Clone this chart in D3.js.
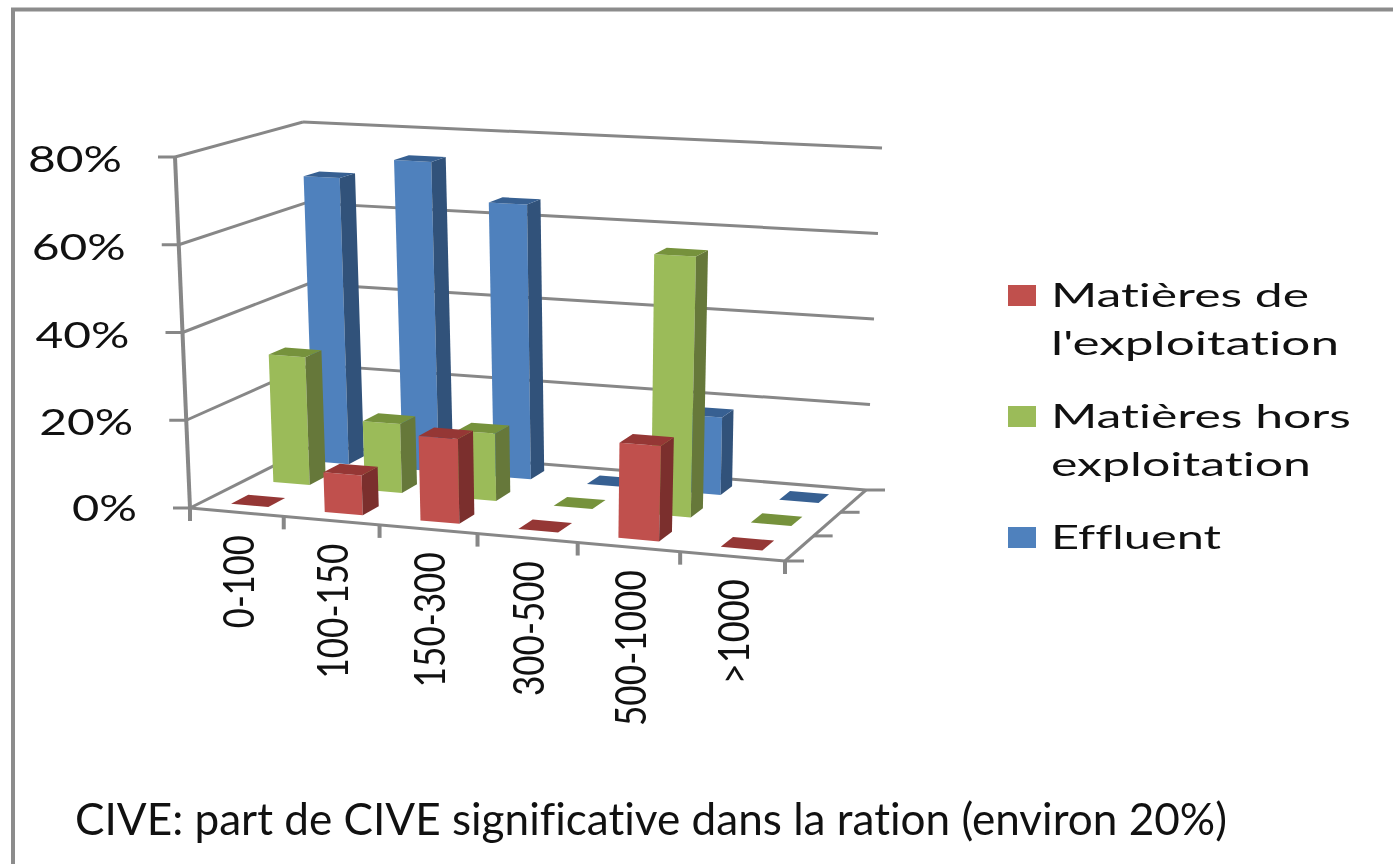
<!DOCTYPE html>
<html>
<head>
<meta charset="utf-8">
<script src="https://cdnjs.cloudflare.com/ajax/libs/d3/7.8.5/d3.min.js"></script>
<style>
html, body { margin: 0; padding: 0; background: #fff; overflow: hidden; }
svg { display: block; filter: blur(0.7px); }
text { font-family: Lato, "Open Sans", sans-serif; fill: #111; font-variant-ligatures: none; }
</style>
</head>
<body>
<svg id="chart" width="1393" height="864"></svg>
<script>
var categories = ["0-100", "100-150", "150-300", "300-500", "500-1000", ">1000"];
var seriesNames = ["Matières de l'exploitation", "Matières hors exploitation", "Effluent"];
var matieresExploitation = [0, 9, 19, 0, 21, 0];
var matieresHors = [30, 16, 15.5, 0, 59, 0];
var effluent = [69, 74, 65, 0, 18, 0];
var yTicks = [0, 20, 40, 60, 80];
var legendLines = [["Matières de", "l'exploitation"], ["Matières hors", "exploitation"], ["Effluent"]];
var caption = "CIVE: part de CIVE significative dans la ration (environ 20%)";

var svg = d3.select("#chart");
var gray = "#878787";

// front, side, top
var shades = [
    ["#c0504d", "#7b2f2d", "#953735"],
    ["#9bbb59", "#66783a", "#76923c"],
    ["#4f81bd", "#31527a", "#376092"]
];
var seriesValues = [matieresExploitation, matieresHors, effluent];

var x = d3.scaleBand().domain(categories).range([0, 1]).paddingInner(0.6).paddingOuter(0.3);
var z = d3.scaleBand().domain(seriesNames).range([0, 1]).paddingInner(0.6).paddingOuter(0.3);
var y = d3.scaleLinear().domain([0, 80]).range([0, 1]);

/* unit square -> quad, corners in order (0,0) (1,0) (1,1) (0,1) */
function quadMap(q) {
    var dx1 = q[1][0] - q[2][0], dx2 = q[3][0] - q[2][0], sx = q[0][0] - q[1][0] + q[2][0] - q[3][0];
    var dy1 = q[1][1] - q[2][1], dy2 = q[3][1] - q[2][1], sy = q[0][1] - q[1][1] + q[2][1] - q[3][1];
    var det = dx1 * dy2 - dx2 * dy1;
    var g = (sx * dy2 - dx2 * sy) / det;
    var h = (dx1 * sy - sx * dy1) / det;
    var a = q[1][0] - q[0][0] + g * q[1][0], b = q[3][0] - q[0][0] + h * q[3][0];
    var d = q[1][1] - q[0][1] + g * q[1][1], e = q[3][1] - q[0][1] + h * q[3][1];
    return function (u, w) {
        var n = g * u + h * w + 1;
        return [(a * u + b * w + q[0][0]) / n, (d * u + e * w + q[0][1]) / n];
    };
}

var floorAt = quadMap([[190, 508], [785, 561], [866, 490], [314, 445.5]]);
var ceilAt = quadMap([[175, 157], [805, 190], [882, 148], [303, 122]]);

function project(u, w, v) {
    var a = floorAt(u, w), b = ceilAt(u, w), t = y(v);
    return [a[0] + (b[0] - a[0]) * t, a[1] + (b[1] - a[1]) * t];
}

var line = d3.line();
function seg(g, a, b, sw) {
    g.append("path").attr("d", line([a, b])).attr("fill", "none")
        .attr("stroke", gray).attr("stroke-width", sw || 3);
}

// outer frame
svg.append("path").attr("d", "M1393,9.5H13V864").attr("fill", "none")
    .attr("stroke", "#8c8c8c").attr("stroke-width", 4);

/* walls and floor */
var walls = svg.append("g");
yTicks.forEach(function (v) {
    seg(walls, project(0, 0, v), project(0, 1, v));
    seg(walls, project(0, 1, v), project(1, 1, v));
    var p = project(0, 0, v);
    seg(walls, [p[0] - 17, p[1]], p);
});
seg(walls, project(0, 0, 0), project(0, 0, 80), 4);
seg(walls, project(0, 0, 0), project(1, 0, 0));
seg(walls, project(1, 0, 0), project(1, 1, 0));

d3.range(7).forEach(function (i) {
    var p = project(i / 6, 0, 0);
    seg(walls, p, [p[0], p[1] + 13], 4);
});
d3.range(4).forEach(function (i) {
    var p = project(1, i / 3, 0);
    seg(walls, p, [p[0] + 19, p[1]]);
});

/* bars, back series first then left to right */
var bars = [];
d3.range(seriesNames.length - 1, -1, -1).forEach(function (s) {
    categories.forEach(function (c, i) {
        bars.push({ s: s, c: c, v: seriesValues[s][i] });
    });
});

var bar = svg.append("g").selectAll("g").data(bars).join("g");

function faces(d) {
    var u0 = x(d.c), u1 = u0 + x.bandwidth();
    var w0 = z(seriesNames[d.s]), w1 = w0 + z.bandwidth();
    var front = [project(u0, w0, 0), project(u1, w0, 0), project(u1, w0, d.v), project(u0, w0, d.v)];
    var side = [project(u1, w0, 0), project(u1, w1, 0), project(u1, w1, d.v), project(u1, w0, d.v)];
    var top = [project(u0, w0, d.v), project(u1, w0, d.v), project(u1, w1, d.v), project(u0, w1, d.v)];
    return d.v > 0 ? [[front, 0], [side, 1], [top, 2]] : [[top, 2]];
}

bar.selectAll("path").data(faces).join("path")
    .attr("d", function (f) { return line(f[0]) + "Z"; })
    .attr("fill", function (f) { return shades[d3.select(this.parentNode).datum().s][f[1]]; });

/* labels are stretched sideways in the original, textLength does that */
svg.append("g").selectAll("text").data(yTicks).join("text")
    .each(function (v) {
        var p = project(0, 0, v);
        var len = v == 0 ? 65 : 94;
        d3.select(this)
            .attr("x", p[0] - 53 - len)
            .attr("y", p[1] + (v == 0 ? 13 : 15))
            .attr("font-size", 36)
            .attr("textLength", len)
            .attr("lengthAdjust", "spacingAndGlyphs")
            .text(v + "%");
    });

function labelLength(s) {
    return s.length * 21 - (s.indexOf("-") >= 0 ? 12 : 0);
}

svg.append("g").selectAll("text").data(categories).join("text")
    .each(function (c) {
        var p = project(x(c) + x.bandwidth() / 2, 0, 0);
        var len = labelLength(c);
        d3.select(this)
            .attr("transform", "translate(" + (p[0] + 17) + "," + (p[1] + 23 + len) + ") rotate(-90)")
            .attr("font-size", 42)
            .attr("textLength", len)
            .attr("lengthAdjust", "spacingAndGlyphs")
            .text(c);
    });

/* legend */
var legendTop = [285, 406, 527];
var lineWidths = [[258, 288], [300, 260], [170]];
var legend = svg.append("g").selectAll("g").data(legendLines).join("g");
legend.append("rect")
    .attr("x", 1008).attr("width", 28).attr("height", 21)
    .attr("y", function (d, i) { return legendTop[i]; })
    .attr("fill", function (d, i) { return shades[i][0]; });
legend.each(function (d, i) {
    d3.select(this).selectAll("text").data(d).join("text")
        .attr("x", 1051)
        .attr("y", function (t, k) { return legendTop[i] + 22 + k * 48; })
        .attr("font-size", 33)
        .attr("textLength", function (t, k) { return lineWidths[i][k]; })
        .attr("lengthAdjust", "spacingAndGlyphs")
        .text(function (t) { return t; });
});

svg.append("text")
    .attr("x", 75).attr("y", 835)
    .attr("font-size", 44)
    .attr("textLength", 1152)
    .attr("lengthAdjust", "spacingAndGlyphs")
    .text(caption);
</script>
</body>
</html>
